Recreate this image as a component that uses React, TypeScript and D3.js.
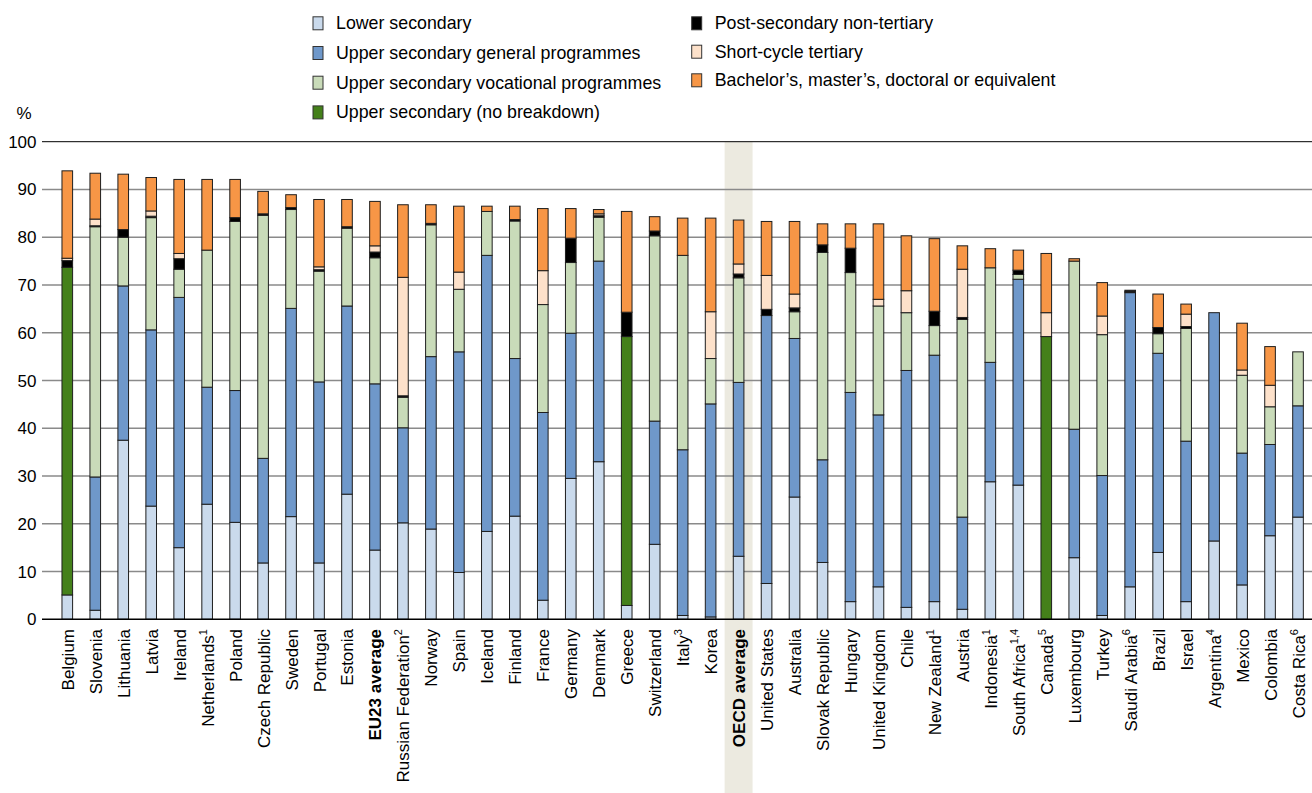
import React, { useEffect } from "react";
import * as d3 from "d3";

const categories = [
  "Belgium", "Slovenia", "Lithuania", "Latvia", "Ireland", "Netherlands", "Poland", "Czech Republic",
  "Sweden", "Portugal", "Estonia", "EU23 average", "Russian Federation", "Norway", "Spain", "Iceland",
  "Finland", "France", "Germany", "Denmark", "Greece", "Switzerland", "Italy", "Korea", "OECD average",
  "United States", "Australia", "Slovak Republic", "Hungary", "United Kingdom", "Chile", "New Zealand",
  "Austria", "Indonesia", "South Africa", "Canada", "Luxembourg", "Turkey", "Saudi Arabia", "Brazil",
  "Israel", "Argentina", "Mexico", "Colombia", "Costa Rica",
];
const notes = [
  "", "", "", "", "", "1", "", "", "", "", "", "", "2", "", "", "", "", "", "", "", "", "", "3", "", "",
  "", "", "", "", "", "", "1", "", "1", "1,4", "5", "", "", "6", "", "", "4", "", "", "6",
];
const boldCats = ["EU23 average", "OECD average"];
const highlightCat = "OECD average";

const lowerSecondary = [
  5.1, 1.9, 37.5, 23.7, 15.0, 24.1, 20.3, 11.8, 21.5, 11.8, 26.2, 14.5, 20.2, 18.9, 9.8, 18.4, 21.6, 4.0,
  29.5, 33.0, 2.9, 15.7, 0.8, 0.5, 13.2, 7.5, 25.6, 11.9, 3.7, 6.8, 2.5, 3.7, 2.1, 28.8, 28.1, 0, 12.9,
  0.8, 6.8, 14.0, 3.7, 16.4, 7.2, 17.5, 21.4,
];
const upperGeneral = [
  0, 27.9, 32.3, 36.9, 52.4, 24.5, 27.6, 21.9, 43.6, 37.9, 39.4, 34.8, 19.9, 36.1, 46.2, 57.8, 33.0, 39.3,
  30.4, 42.0, 0, 25.8, 34.7, 44.6, 36.4, 56.1, 33.2, 21.5, 43.8, 36.0, 49.6, 51.6, 19.3, 25.0, 43.1, 0,
  26.9, 29.3, 61.6, 41.7, 33.6, 47.8, 27.6, 19.1, 23.3,
];
const upperVocational = [
  0, 52.4, 10.2, 23.5, 5.9, 28.7, 35.4, 50.9, 20.7, 23.2, 16.3, 26.4, 6.4, 27.6, 13.1, 9.2, 28.8, 22.6,
  14.8, 9.2, 0, 38.8, 40.7, 9.5, 21.9, 0, 5.6, 43.4, 25.1, 22.8, 12.1, 6.2, 41.4, 19.8, 1.0, 0, 35.2,
  29.5, 0.2, 4.1, 23.6, 0, 16.3, 7.9, 11.3,
];
const upperNoBreakdown = [
  68.6, 0, 0, 0, 0, 0, 0, 0, 0, 0, 0, 0, 0, 0, 0, 0, 0, 0, 0, 0, 56.3, 0, 0, 0, 0, 0, 0, 0, 0, 0, 0, 0,
  0, 0, 0, 59.2, 0, 0, 0, 0, 0, 0, 0, 0, 0,
];
const postSecondary = [
  1.4, 0.2, 1.6, 0.3, 2.2, 0, 0.8, 0.3, 0.4, 0.3, 0.3, 1.2, 0.3, 0.3, 0, 0, 0.3, 0, 5.1, 0.3, 5.1, 1.0,
  0, 0, 0.8, 1.3, 0.8, 1.6, 5.1, 0, 0, 3.0, 0.4, 0, 0.9, 0, 0, 0, 0.3, 1.3, 0.4, 0, 0, 0, 0,
];
const shortCycle = [
  0.5, 1.4, 0, 1.1, 1.1, 0, 0, 0, 0, 0.6, 0, 1.3, 24.8, 0, 3.6, 0, 0, 7.1, 0, 0.4, 0, 0, 0, 9.8, 2.1,
  7.1, 2.9, 0, 0, 1.4, 4.6, 0, 10.1, 0, 0, 5.0, 0, 3.9, 0, 0, 2.6, 0, 1.1, 4.5, 0,
];
const bachelorPlus = [
  18.3, 9.6, 11.6, 7.0, 15.5, 14.8, 8.0, 4.7, 2.7, 14.1, 5.7, 9.3, 15.2, 3.9, 13.8, 1.1, 2.8, 13.0, 6.2,
  0.9, 21.1, 3.0, 7.8, 19.6, 9.2, 11.3, 15.2, 4.4, 5.1, 15.8, 11.5, 15.2, 4.9, 4.0, 4.2, 12.4, 0.5, 7.0,
  0, 7.0, 2.1, 0, 9.8, 8.1, 0,
];

const seriesNames = [
  "Lower secondary",
  "Upper secondary general programmes",
  "Upper secondary vocational programmes",
  "Upper secondary (no breakdown)",
  "Post-secondary non-tertiary",
  "Short-cycle tertiary",
  "Bachelor\u2019s, master\u2019s, doctoral or equivalent",
];
const seriesValues = [
  lowerSecondary, upperGeneral, upperVocational, upperNoBreakdown, postSecondary, shortCycle, bachelorPlus,
];
const seriesColors = ["#CADAEC", "#6F98CA", "#C9DBB9", "#44801A", "#000000", "#FDE1CA", "#F79646"];
const yTicks = [0, 10, 20, 30, 40, 50, 60, 70, 80, 90, 100];

const W = 1312;
const H = 793;
const FONT = "'Liberation Sans', Arial, Helvetica, sans-serif";

export default function App() {
  useEffect(() => {
    document.body.style.margin = "0";
  }, []);

  const x = d3
    .scaleBand<string>()
    .domain(categories)
    .range([53.3, 1312])
    .paddingInner(0.62)
    .paddingOuter(0.31);
  const y = d3.scaleLinear().domain([0, 100]).range([619.3, 141.7]);

  const table = categories.map((c, i) => {
    const row: Record<string, any> = { cat: c };
    seriesNames.forEach((s, k) => (row[s] = seriesValues[k][i]));
    return row;
  });
  const stacked = d3.stack<any>().keys(seriesNames)(table);

  const step = x.step();
  const hx = (x(highlightCat) as number) + x.bandwidth() / 2 - step / 2;

  const legendLayout = [
    { k: 0, lx: 313, ty: 23.3 },
    { k: 1, lx: 313, ty: 53 },
    { k: 2, lx: 313, ty: 82.7 },
    { k: 3, lx: 313, ty: 112.4 },
    { k: 4, lx: 691.7, ty: 23.3 },
    { k: 5, lx: 691.7, ty: 51.7 },
    { k: 6, lx: 691.7, ty: 80.3 },
  ];

  return (
    <svg width={W} height={H} style={{ display: "block", background: "#fff" }} fontFamily={FONT}>
      {/* highlight */}
      <rect x={hx} y={y(100)} width={step} height={H - y(100)} fill="#ECEAE0" />
      {/* gridlines */}
      {yTicks.map((t) => (
        <g key={t}>
          {t > 0 && (
            <line
              x1={42}
              x2={W}
              y1={y(t)}
              y2={y(t)}
              stroke={t === 100 ? "#000" : "#8a8a8a"}
              strokeWidth={t === 100 ? 1 : 1.4}
            />
          )}
          <text x={36.5} y={y(t) + 6} textAnchor="end" fontSize={17} fill="#000">
            {t}
          </text>
        </g>
      ))}
      <text x={24} y={119} textAnchor="middle" fontSize={17} fill="#000">
        %
      </text>
      {/* bars */}
      {stacked.map((layer, k) => (
        <g key={layer.key} fill={seriesColors[k]}>
          {layer.map((d, i) =>
            d[1] - d[0] > 0 ? (
              <rect
                key={i}
                x={x(categories[i]) as number}
                y={y(d[1])}
                width={x.bandwidth()}
                height={y(d[0]) - y(d[1])}
                stroke="#1e1e1e"
                strokeWidth={1}
              />
            ) : null
          )}
        </g>
      ))}
      {/* zero axis */}
      <line x1={42} x2={W} y1={y(0)} y2={y(0)} stroke="#000" strokeWidth={1.5} />
      {/* x labels */}
      {categories.map((c, i) => {
        const cx = (x(c) as number) + x.bandwidth() / 2;
        return (
          <text
            key={c}
            transform={`translate(${cx + 6.5},629) rotate(-90)`}
            textAnchor="end"
            fontSize={17}
            fontWeight={boldCats.includes(c) ? "bold" : "normal"}
            fill="#000"
          >
            {c}
            {notes[i] && (
              <tspan fontSize={11} dy={-7}>
                {notes[i]}
              </tspan>
            )}
          </text>
        );
      })}
      {/* legend */}
      {legendLayout.map(({ k, lx, ty }) => (
        <g key={k}>
          <rect x={lx} y={ty - 6.5} width={10} height={13} fill={seriesColors[k]} stroke="#333" strokeWidth={1} />
          <text x={lx + 23} y={ty + 6} fontSize={17.8} fill="#000">
            {seriesNames[k]}
          </text>
        </g>
      ))}
    </svg>
  );
}
